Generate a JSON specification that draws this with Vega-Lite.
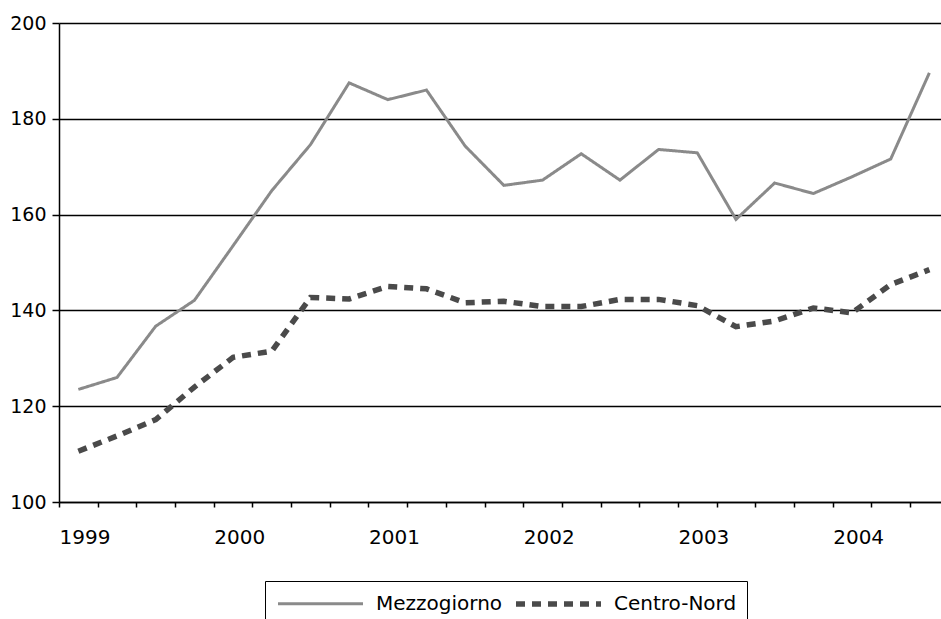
{
  "$schema": "https://vega.github.io/schema/vega-lite/v6.json",
  "autosize": {"type": "none"},
  "width": 882,
  "height": 479,
  "padding": {"left": 59, "top": 23, "right": 0, "bottom": 117},
  "background": "white",
  "config": {
    "view": {"stroke": null},
    "font": "DejaVu Sans"
  },
  "data": {
    "values": [
      {"t": 1999.125, "serie": "Mezzogiorno", "v": 123.5},
      {"t": 1999.375, "serie": "Mezzogiorno", "v": 126.0},
      {"t": 1999.625, "serie": "Mezzogiorno", "v": 136.7},
      {"t": 1999.875, "serie": "Mezzogiorno", "v": 142.1},
      {"t": 2000.125, "serie": "Mezzogiorno", "v": 153.5},
      {"t": 2000.375, "serie": "Mezzogiorno", "v": 165.0},
      {"t": 2000.625, "serie": "Mezzogiorno", "v": 174.6},
      {"t": 2000.875, "serie": "Mezzogiorno", "v": 187.5},
      {"t": 2001.125, "serie": "Mezzogiorno", "v": 184.0},
      {"t": 2001.375, "serie": "Mezzogiorno", "v": 186.0},
      {"t": 2001.625, "serie": "Mezzogiorno", "v": 174.3},
      {"t": 2001.875, "serie": "Mezzogiorno", "v": 166.1},
      {"t": 2002.125, "serie": "Mezzogiorno", "v": 167.2},
      {"t": 2002.375, "serie": "Mezzogiorno", "v": 172.7},
      {"t": 2002.625, "serie": "Mezzogiorno", "v": 167.2},
      {"t": 2002.875, "serie": "Mezzogiorno", "v": 173.6},
      {"t": 2003.125, "serie": "Mezzogiorno", "v": 172.9},
      {"t": 2003.375, "serie": "Mezzogiorno", "v": 159.0},
      {"t": 2003.625, "serie": "Mezzogiorno", "v": 166.6},
      {"t": 2003.875, "serie": "Mezzogiorno", "v": 164.4},
      {"t": 2004.125, "serie": "Mezzogiorno", "v": 167.9},
      {"t": 2004.375, "serie": "Mezzogiorno", "v": 171.6},
      {"t": 2004.625, "serie": "Mezzogiorno", "v": 189.6},
      {"t": 1999.125, "serie": "Centro-Nord", "v": 110.6},
      {"t": 1999.375, "serie": "Centro-Nord", "v": 113.8},
      {"t": 1999.625, "serie": "Centro-Nord", "v": 117.2},
      {"t": 1999.875, "serie": "Centro-Nord", "v": 124.0},
      {"t": 2000.125, "serie": "Centro-Nord", "v": 130.2},
      {"t": 2000.375, "serie": "Centro-Nord", "v": 131.5},
      {"t": 2000.625, "serie": "Centro-Nord", "v": 142.7},
      {"t": 2000.875, "serie": "Centro-Nord", "v": 142.4},
      {"t": 2001.125, "serie": "Centro-Nord", "v": 145.0},
      {"t": 2001.375, "serie": "Centro-Nord", "v": 144.5},
      {"t": 2001.625, "serie": "Centro-Nord", "v": 141.6},
      {"t": 2001.875, "serie": "Centro-Nord", "v": 141.9},
      {"t": 2002.125, "serie": "Centro-Nord", "v": 140.8},
      {"t": 2002.375, "serie": "Centro-Nord", "v": 140.8},
      {"t": 2002.625, "serie": "Centro-Nord", "v": 142.3},
      {"t": 2002.875, "serie": "Centro-Nord", "v": 142.3},
      {"t": 2003.125, "serie": "Centro-Nord", "v": 141.0},
      {"t": 2003.375, "serie": "Centro-Nord", "v": 136.6},
      {"t": 2003.625, "serie": "Centro-Nord", "v": 137.8},
      {"t": 2003.875, "serie": "Centro-Nord", "v": 140.5},
      {"t": 2004.125, "serie": "Centro-Nord", "v": 139.5},
      {"t": 2004.375, "serie": "Centro-Nord", "v": 145.4},
      {"t": 2004.625, "serie": "Centro-Nord", "v": 148.5}
    ]
  },
  "mark": {"type": "line", "strokeCap": "butt", "strokeJoin": "miter"},
  "encoding": {
    "x": {
      "field": "t",
      "type": "quantitative",
      "scale": {"domain": [1999, 2004.7], "nice": false, "zero": false},
      "axis": {
        "title": null,
        "grid": false,
        "values": [1999, 1999.25, 1999.5, 1999.75, 2000, 2000.25, 2000.5, 2000.75, 2001, 2001.25, 2001.5, 2001.75, 2002, 2002.25, 2002.5, 2002.75, 2003, 2003.25, 2003.5, 2003.75, 2004, 2004.25, 2004.5],
        "labelExpr": "datum.value % 1 === 0 ? '' + datum.value : ''",
        "labelAlign": "left",
        "labelBaseline": "top",
        "labelFont": "DejaVu Sans",
        "labelFontSize": 20,
        "labelColor": "black",
        "labelPadding": 20,
        "labelOverlap": false,
        "labelFlush": false,
        "domainColor": "black",
        "domainWidth": 1.5,
        "tickColor": "black",
        "tickWidth": 1.5,
        "tickSize": 5
      }
    },
    "y": {
      "field": "v",
      "type": "quantitative",
      "scale": {"domain": [100, 200], "nice": false, "zero": false},
      "axis": {
        "title": null,
        "values": [100, 120, 140, 160, 180, 200],
        "grid": true,
        "gridColor": "black",
        "gridWidth": 1.4,
        "gridOpacity": 1,
        "labelFont": "DejaVu Sans",
        "labelFontSize": 19,
        "labelColor": "black",
        "labelPadding": 6,
        "domainColor": "black",
        "domainWidth": 1.5,
        "tickColor": "black",
        "tickWidth": 1.5,
        "tickSize": 7
      }
    },
    "color": {
      "field": "serie",
      "type": "nominal",
      "scale": {"domain": ["Mezzogiorno", "Centro-Nord"], "range": ["#8a8a8a", "#4a4a4a"]},
      "legend": {
        "title": null,
        "orient": "none",
        "legendX": 206,
        "legendY": 558,
        "direction": "horizontal",
        "columns": 2,
        "columnPadding": 2,
        "padding": 10,
        "strokeColor": "black",
        "fillColor": "white",
        "symbolType": "M-1,0H7.5",
        "symbolSize": 400,
        "labelFont": "DejaVu Sans",
        "labelFontSize": 20,
        "labelColor": "black",
        "labelOffset": 75
      }
    },
    "strokeDash": {
      "field": "serie",
      "type": "nominal",
      "scale": {"domain": ["Mezzogiorno", "Centro-Nord"], "range": [[1, 0], [9, 7]]},
      "legend": null
    },
    "strokeWidth": {
      "field": "serie",
      "type": "nominal",
      "scale": {"domain": ["Mezzogiorno", "Centro-Nord"], "range": [3, 5.5]},
      "legend": null
    }
  }
}
